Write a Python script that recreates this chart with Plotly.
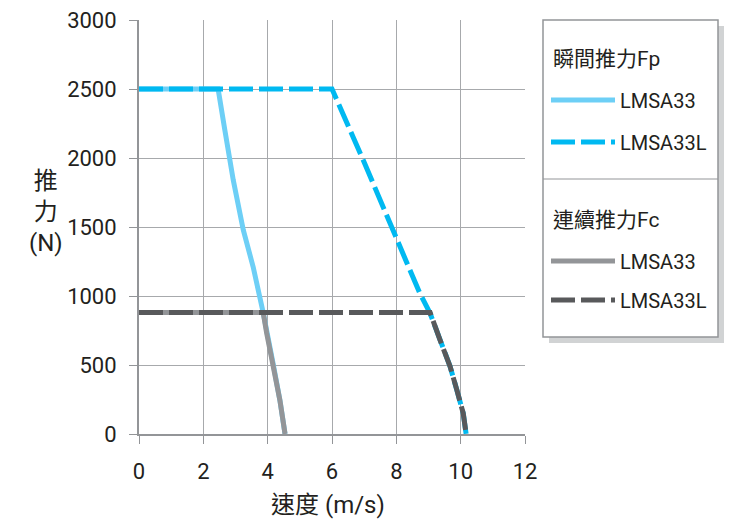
import plotly.graph_objects as go

# Data (speed m/s, thrust N)
fp33_x = [0, 2.46, 2.67, 2.93, 3.24, 3.55, 3.86, 3.97, 4.17, 4.38, 4.54]
fp33_y = [2500, 2500, 2200, 1840, 1480, 1210, 880, 730, 510, 245, 0]

fp33l_x = [0, 6.0, 6.97, 8.01, 8.73, 9.05, 9.36, 9.67, 9.88, 10.08, 10.17]
fp33l_y = [2500, 2500, 1985, 1410, 1020, 875, 680, 490, 320, 150, 0]

fc33_x = [0, 3.86, 3.97, 4.17, 4.38, 4.54]
fc33_y = [880, 880, 730, 510, 245, 0]

fc33l_x = [0, 9.05, 9.36, 9.67, 9.88, 10.08, 10.17]
fc33l_y = [880, 880, 680, 490, 320, 150, 0]

x_ticks = [0, 2, 4, 6, 8, 10, 12]
y_ticks = [0, 500, 1000, 1500, 2000, 2500, 3000]

C_LB = "#6dcff6"
C_CY = "#00b9f1"
C_GR = "#939598"
C_DG = "#58595b"
TXT = "#231f20"
FONT = "Roboto, Noto Sans CJK TC, sans-serif"

fig = go.Figure()
fig.add_trace(go.Scatter(x=fp33_x, y=fp33_y, mode="lines", name="LMSA33",
                         line=dict(color=C_LB, width=5), legend="legend", cliponaxis=False))
fig.add_trace(go.Scatter(x=fp33l_x, y=fp33l_y, mode="lines", name="LMSA33L",
                         line=dict(color=C_CY, width=5, dash="24px,6px"), legend="legend2", cliponaxis=False))
fig.add_trace(go.Scatter(x=fc33_x, y=fc33_y, mode="lines", name="LMSA33",
                         line=dict(color=C_GR, width=5), legend="legend3", cliponaxis=False))
fig.add_trace(go.Scatter(x=fc33l_x, y=fc33l_y, mode="lines", name="LMSA33L",
                         line=dict(color=C_DG, width=5, dash="24px,6px"), legend="legend4", cliponaxis=False))

OFF = 8  # page body margin
W, H = 752 - OFF, 526 - OFF
# plot area in screen pixels
L, R, T, B = 139, 525, 20, 434
PW, PH = R - L, B - T
def px(x):
    return (x - L) / PW
def py(y):
    return (B - y) / PH

leg_common = dict(xanchor="left", yanchor="middle", bgcolor="rgba(0,0,0,0)",
                  font=dict(family=FONT, size=20, color=TXT), itemwidth=64)
fig.update_layout(
    legend=dict(x=px(546), y=py(100), **leg_common),
    legend2=dict(x=px(546), y=py(142), **leg_common),
    legend3=dict(x=px(546), y=py(261), **leg_common),
    legend4=dict(x=px(546), y=py(300), **leg_common),
)

shapes = [
    dict(type="rect", xref="paper", yref="paper", x0=px(549), x1=px(724), y0=py(26), y1=py(343),
         line=dict(width=0), fillcolor="#d1d3d4", layer="below"),
    dict(type="rect", xref="paper", yref="paper", x0=px(543), x1=px(718), y0=py(20), y1=py(337),
         line=dict(width=1.5, color="#939598"), fillcolor="white", layer="below"),
    dict(type="line", xref="paper", yref="paper", x0=px(543), x1=px(718), y0=py(179), y1=py(179),
         line=dict(width=1, color="#939598")),
]

annotations = [
    dict(text="瞬間推力Fp", xref="paper", yref="paper", x=px(551), y=py(59), xanchor="left",
         yanchor="middle", showarrow=False, font=dict(family=FONT, size=21, color=TXT)),
    dict(text="連續推力Fc", xref="paper", yref="paper", x=px(551), y=py(220), xanchor="left",
         yanchor="middle", showarrow=False, font=dict(family=FONT, size=21, color=TXT)),
    dict(text="推<br>力<br>(N)", xref="paper", yref="paper", x=px(46), y=py(212), xanchor="center",
         yanchor="middle", showarrow=False, font=dict(family=FONT, size=24, color=TXT)),
    dict(text="速度 (m/s)", xref="paper", yref="paper", x=px(328), y=py(505), xanchor="center",
         yanchor="middle", showarrow=False, font=dict(family=FONT, size=24, color=TXT)),
]

fig.update_layout(
    width=W, height=H,
    margin=dict(l=L - OFF, r=752 - R, t=T - OFF, b=526 - B, autoexpand=False),
    paper_bgcolor="white", plot_bgcolor="white",
    showlegend=True,
    shapes=shapes, annotations=annotations,
    font=dict(family=FONT, size=17, color=TXT),
)
fig.update_xaxes(range=[0, 12], tickvals=x_ticks, showgrid=True, gridcolor="#a7a9ac", gridwidth=1,
                 showline=True, linecolor="#939598", linewidth=2, ticks="outside", ticklen=8,
                 tickcolor="#939598", zeroline=False, mirror=False, automargin=False,
                 ticklabeloverflow="allow", ticklabelstandoff=9,
                 tickfont=dict(family=FONT, size=22, color=TXT))
fig.update_yaxes(range=[0, 3000], tickvals=y_ticks, showgrid=True, gridcolor="#a7a9ac", gridwidth=1,
                 showline=True, linecolor="#939598", linewidth=2, ticks="outside", ticklen=8,
                 tickcolor="#939598", zeroline=False, automargin=False,
                 ticklabeloverflow="allow", ticklabelstandoff=8,
                 tickfont=dict(family=FONT, size=22, color=TXT))

fig.write_html("out.html")
